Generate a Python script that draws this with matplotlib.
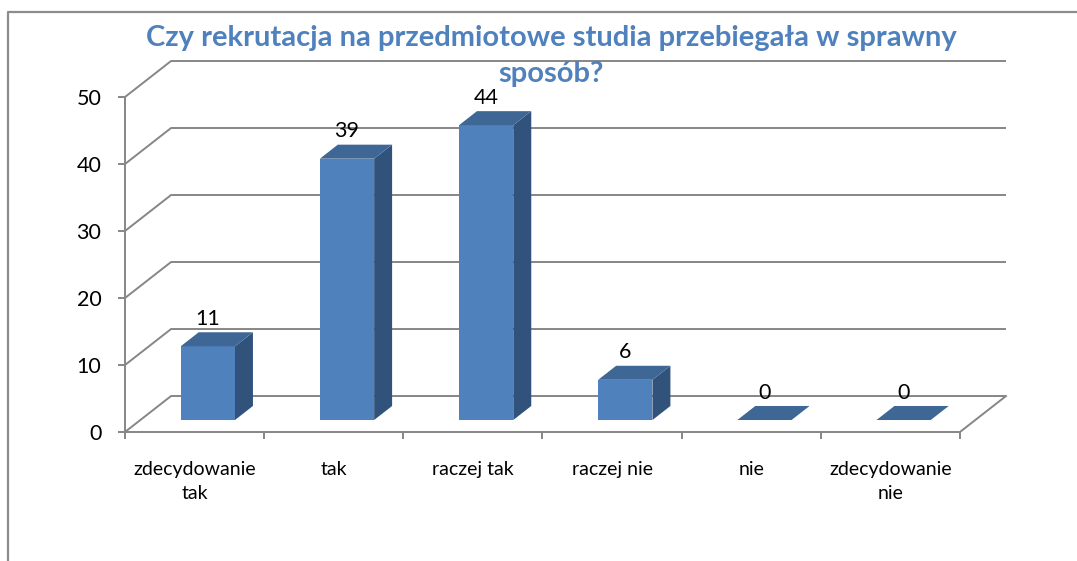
import numpy as np
import matplotlib
matplotlib.use('Agg')
import matplotlib.pyplot as plt
from matplotlib.patches import Polygon, Rectangle
from matplotlib.lines import Line2D

# data
categories = ['zdecydowanie\ntak', 'tak', 'raczej tak', 'raczej nie', 'nie', 'zdecydowanie\nnie']
values = [11, 39, 44, 6, 0, 0]
yticks = [0, 10, 20, 30, 40, 50]
title = 'Czy rekrutacja na przedmiotowe studia przebiegała w sprawny\nsposób?'

plt.rcParams['font.family'] = ['Lato', 'DejaVu Sans']

front_col = '#4F81BD'
top_col = '#3F6796'
side_col = '#31527B'
grid_col = '#868686'

# pseudo 3d depth (category units, value units)
DX = 0.331
DY = 5.37
Z0 = 1 / 3       # bar front depth
ZD = 0.39        # bar depth
OFF = 0.29
W = 0.39

fig = plt.figure(figsize=(10.77, 5.61), dpi=100)
ax = fig.add_axes([125 / 1077, 129 / 561, 881 / 1077, 371 / 561])
n = len(categories)
ax.set_xlim(0, n + DX)
ax.set_ylim(0, 50 + DY)
ax.patch.set_visible(False)

# back wall gridlines with diagonal from the front axis
for v in yticks:
    ax.plot([0, DX, n + DX], [v, v + DY, v + DY], color=grid_col, lw=1.4, zorder=1,
            solid_capstyle='butt', clip_on=False)
ax.plot([n, n + DX], [0, DY], color=grid_col, lw=1.4, zorder=1, clip_on=False)

# bars
ddx, ddy = ZD * DX, ZD * DY
y0 = Z0 * DY
for i, v in enumerate(values):
    x0 = i + OFF + Z0 * DX
    x1 = x0 + W
    if v > 0:
        ax.add_patch(Rectangle((x0, y0), W, v, facecolor=front_col, edgecolor='none', zorder=3))
        ax.add_patch(Polygon([(x1, y0), (x1 + ddx, y0 + ddy), (x1 + ddx, y0 + v + ddy), (x1, y0 + v)],
                             closed=True, facecolor=side_col, edgecolor='none', zorder=3))
    ax.add_patch(Polygon([(x0, y0 + v), (x1, y0 + v), (x1 + ddx, y0 + v + ddy), (x0 + ddx, y0 + v + ddy)],
                         closed=True, facecolor=top_col, edgecolor='none', zorder=3))
    ax.annotate(str(v), (x0 + W / 2, y0 + v + ddy), xytext=(0, 2.5), textcoords='offset points',
                ha='center', va='bottom', fontsize=15.5, color='black', zorder=4)

# axes
for s in ['top', 'right']:
    ax.spines[s].set_visible(False)
ax.spines['left'].set_bounds(0, 50)
ax.spines['bottom'].set_bounds(0, n)
for s in ['left', 'bottom']:
    ax.spines[s].set_color(grid_col)
    ax.spines[s].set_linewidth(1.4)
    ax.spines[s].set_zorder(2)

ax.set_yticks(yticks)
ax.set_yticklabels([str(t) for t in yticks], fontsize=15.5)
ax.tick_params(axis='y', length=5, width=1.4, color=grid_col, pad=12)

ax.set_xticks(np.arange(n + 1))
ax.set_xticklabels([])
ax.tick_params(axis='x', which='major', length=5, width=1.4, color=grid_col)
ax.set_xticks(np.arange(n) + 0.5, minor=True)
ax.set_xticklabels(categories, minor=True, fontsize=14, linespacing=1.5)
ax.tick_params(axis='x', which='minor', length=0, pad=21)

fig.text(551 / 1077, 1 - 56 / 561, title, ha='center', va='center', fontsize=21,
         fontweight='bold', color=front_col, linespacing=1.5)

# outer frame
fig.add_artist(Line2D([8 / 1077, 8 / 1077, 1.0], [0.0, 1 - 12 / 561, 1 - 12 / 561],
                      color='#8C8C8C', lw=1.6, transform=fig.transFigure))

fig.savefig('out.png', dpi=100)
